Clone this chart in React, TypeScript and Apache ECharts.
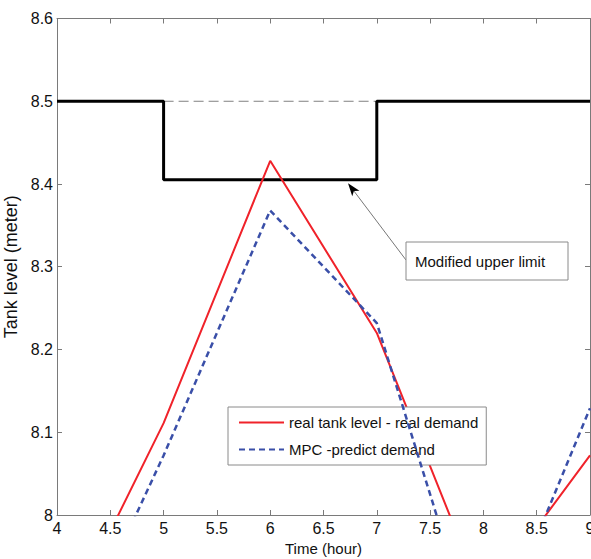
import React, { useEffect, useRef } from "react";
import * as echarts from "echarts";

const hours = [4, 5, 6, 7, 8, 9];
const realLevel = [7.85, 8.111, 8.428, 8.22, 7.898, 8.072];
const mpcLevel = [7.795, 8.072, 8.368, 8.232, 7.818, 8.129];
const limitX = [4, 5, 5, 7, 7, 9];
const limitY = [8.5, 8.5, 8.405, 8.405, 8.5, 8.5];
const originalLimitX = [5, 7];
const originalLimitY = [8.5, 8.5];
const seriesNames = ["real tank level - real demand", "MPC -predict demand"];
const annotationText = "Modified upper limit";
const annotationTarget = [6.73, 8.401];

const FONT = "Liberation Sans, Arial, sans-serif";

function pairs(xs: number[], ys: number[]) {
  return xs.map((x, i) => [x, ys[i]]);
}

export default function App() {
  const ref = useRef<HTMLDivElement>(null);
  useEffect(() => {
    if (!ref.current) return;
    const chart = echarts.init(ref.current, null, { renderer: "svg" });
    const axisLine = { show: true, lineStyle: { color: "#7a7a7a", width: 1 } };
    const axisTick = { show: true, inside: true, length: 5, lineStyle: { color: "#7a7a7a" } };
    const xBase = { type: "value", min: 4, max: 9, interval: 0.5, splitLine: { show: false }, axisLine, axisTick };
    const yBase = { type: "value", min: 8, max: 8.6, interval: 0.1, splitLine: { show: false }, axisLine, axisTick };
    chart.setOption({
      animation: false,
      backgroundColor: "#ffffff",
      grid: { left: 57, right: 1, top: 18.5, bottom: 44, outerBoundsMode: "none", containLabel: false },
      xAxis: [
        {
          ...xBase,
          position: "bottom",
          name: "Time (hour)",
          nameLocation: "middle",
          nameGap: 26,
          nameTextStyle: { fontFamily: FONT, fontSize: 15, color: "#111" },
          axisLabel: { fontFamily: FONT, fontSize: 16, color: "#111", margin: 5 },
        },
        { ...xBase, position: "top", axisLabel: { show: false } },
      ],
      yAxis: [
        {
          ...yBase,
          position: "left",
          name: "Tank level (meter)",
          nameLocation: "middle",
          nameGap: 33,
          nameTextStyle: { fontFamily: FONT, fontSize: 18, color: "#111" },
          axisLabel: { fontFamily: FONT, fontSize: 16, color: "#111", margin: 4 },
        },
        { ...yBase, position: "right", axisLabel: { show: false } },
      ],
      legend: {
        data: seriesNames,
        orient: "vertical",
        left: 228,
        top: 407,
        padding: [8, 8, 8, 10],
        itemGap: 12,
        itemWidth: 45,
        itemHeight: 15,
        borderColor: "#8a8a8a",
        borderWidth: 1,
        backgroundColor: "#ffffff",
        itemStyle: { opacity: 0 },
        textStyle: { fontFamily: FONT, fontSize: 15, color: "#111" },
      },
      series: [
        {
          name: "original limit",
          type: "line",
          data: pairs(originalLimitX, originalLimitY),
          symbol: "none",
          lineStyle: { color: "#808080", width: 1, type: [10, 5] },
          z: 1,
        },
        {
          name: "modified limit",
          type: "line",
          data: pairs(limitX, limitY),
          symbol: "none",
          lineStyle: { color: "#000000", width: 3 },
          z: 2,
        },
        {
          name: seriesNames[0],
          type: "line",
          data: pairs(hours, realLevel),
          symbol: "none",
          color: "#f0222a",
          lineStyle: { color: "#f0222a", width: 2 },
          z: 3,
        },
        {
          name: seriesNames[1],
          type: "line",
          data: pairs(hours, mpcLevel),
          symbol: "none",
          color: "#3a4fa8",
          lineStyle: { color: "#3a4fa8", width: 2.5, type: [6, 4] },
          z: 4,
        },
      ],
    });

    const tip = chart.convertToPixel({ gridIndex: 0 }, annotationTarget) as number[];
    const boxX = 406, boxY = 242, boxW = 162, boxH = 38;
    const start = [boxX, boxY + 18];
    const dx = tip[0] - start[0], dy = tip[1] - start[1];
    const len = Math.sqrt(dx * dx + dy * dy);
    const ux = dx / len, uy = dy / len;
    const headLen = 13, headW = 4.5;
    const bx = tip[0] - ux * headLen, by = tip[1] - uy * headLen;
    const notchX = tip[0] - ux * headLen * 0.75, notchY = tip[1] - uy * headLen * 0.75;
    chart.setOption({
      graphic: [
        {
          type: "line",
          shape: { x1: start[0], y1: start[1], x2: notchX, y2: notchY },
          style: { stroke: "#777", lineWidth: 1 },
          z: 10,
        },
        {
          type: "polygon",
          shape: {
            points: [
              [tip[0], tip[1]],
              [bx - uy * headW, by + ux * headW],
              [notchX, notchY],
              [bx + uy * headW, by - ux * headW],
            ],
          },
          style: { fill: "#000" },
          z: 10,
        },
        {
          type: "rect",
          shape: { x: boxX, y: boxY, width: boxW, height: boxH },
          style: { fill: "#fff", stroke: "#8a8a8a", lineWidth: 1 },
          z: 10,
        },
        {
          type: "text",
          x: boxX + 9,
          y: boxY + boxH / 2,
          style: {
            text: annotationText,
            fontFamily: FONT,
            fontSize: 15,
            fill: "#111",
            verticalAlign: "middle",
          },
          z: 11,
        },
      ],
    });
    return () => chart.dispose();
  }, []);
  return (
    <div
      ref={ref}
      style={{ position: "absolute", left: 0, top: 0, width: 591, height: 559 }}
    />
  );
}
